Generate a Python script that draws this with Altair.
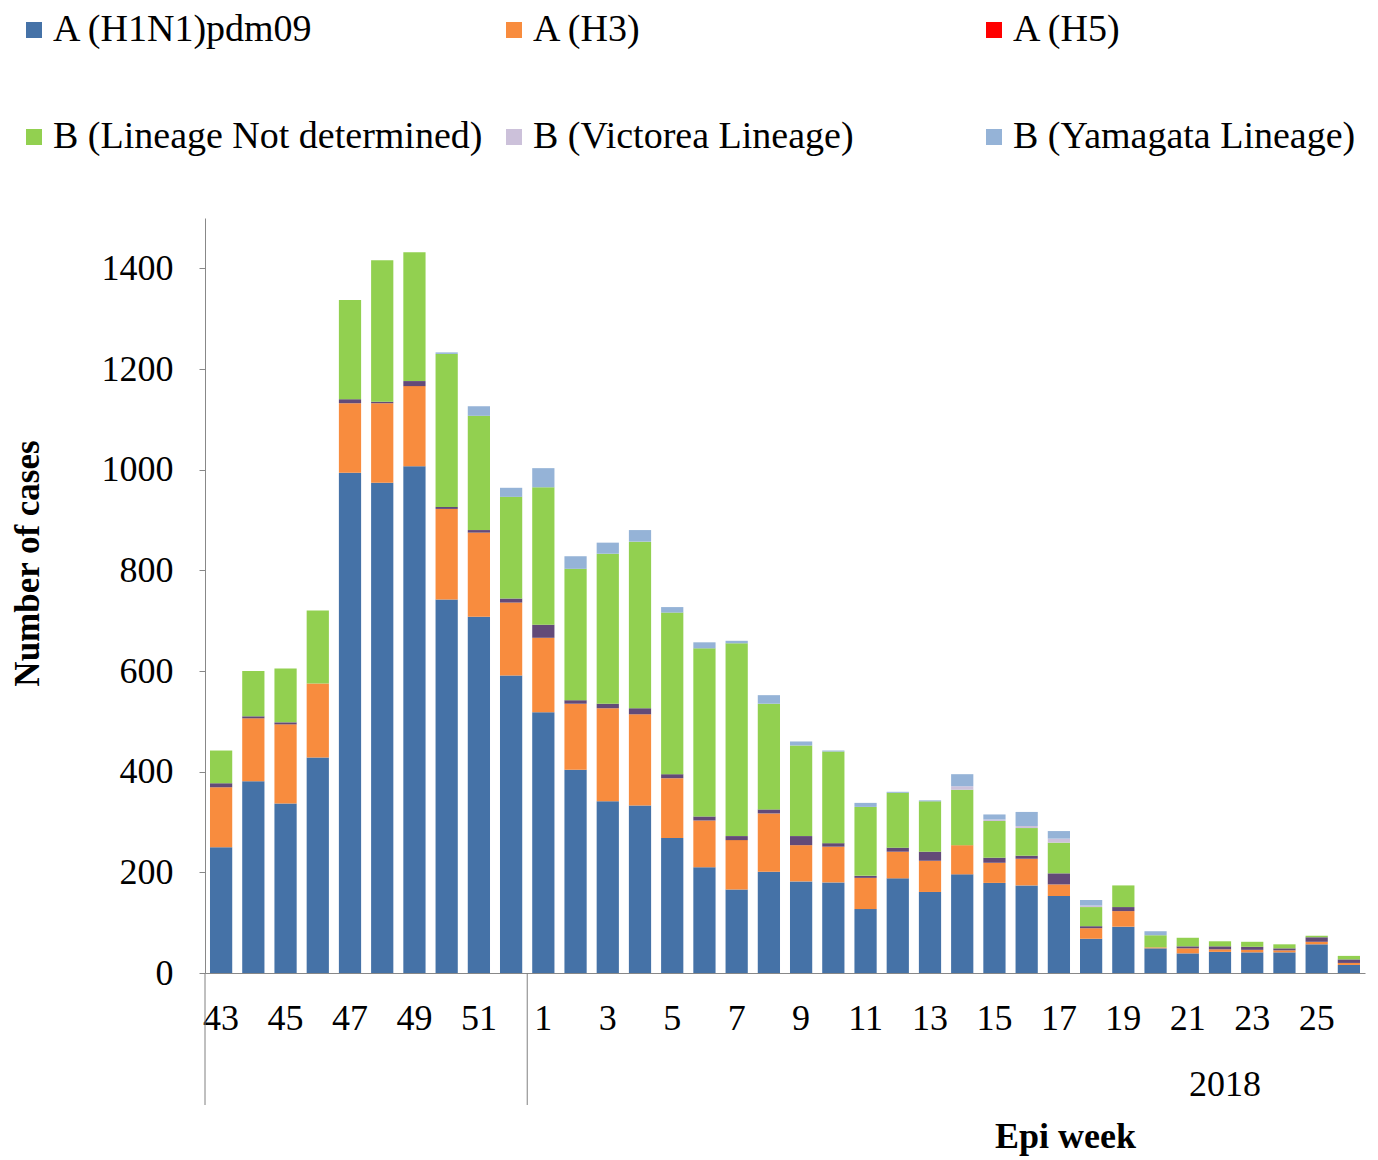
import altair as alt
import pandas as pd

weeks = [str(w) for w in list(range(43, 53)) + list(range(1, 27))]
shown_weeks = [str(w) for w in [43, 45, 47, 49, 51] + list(range(1, 26, 2))]

series = [
    "A (H1N1)pdm09",
    "A (H3)",
    "A (H5)",
    "A (not subtyped)",
    "B (Lineage Not determined)",
    "B (Victorea Lineage)",
    "B (Yamagata Lineage)",
]
legend_series = [s for s in series if s != "A (not subtyped)"]
colors = ["#4572A7", "#F88C3E", "#FF0000", "#634A78", "#92D050", "#CCC1DA", "#95B3D7"]

h1n1 = [250, 381, 337, 428, 994, 974, 1007, 742, 708, 591,
        518, 404, 341, 333, 268, 210, 166, 201, 182, 180,
        127, 188, 161, 196, 179, 174, 153, 68, 92, 49,
        39, 42, 41, 41, 57, 16]
h3 = [119, 125, 157, 147, 138, 158, 159, 180, 167, 145,
      148, 131, 185, 181, 119, 93, 98, 116, 72, 71,
      62, 53, 62, 58, 40, 53, 23, 21, 31, 2,
      10, 5, 5, 4, 5, 4]
h5 = [0] * 36
a_nst = [8, 4, 4, 0, 8, 3, 10, 4, 5, 8,
         26, 7, 9, 12, 8, 8, 8, 8, 18, 7,
         4, 8, 18, 0, 10, 6, 22, 4, 8, 0,
         4, 6, 6, 4, 9, 7]
b_nd = [65, 90, 107, 145, 197, 281, 256, 304, 227, 202,
        273, 261, 298, 331, 321, 334, 383, 210, 180, 182,
        137, 109, 100, 110, 73, 55, 61, 38, 43, 24,
        17, 10, 10, 8, 3, 7]
b_vic = [0, 0, 0, 0, 0, 0, 0, 0, 0, 0,
         0, 0, 0, 0, 0, 0, 0, 0, 0, 0,
         0, 0, 0, 7, 3, 4, 8, 3, 0, 0,
         0, 0, 0, 0, 0, 0]
b_yam = [0, 0, 0, 0, 0, 0, 0, 3, 19, 18,
         38, 25, 22, 23, 11, 12, 5, 17, 8, 2,
         8, 2, 2, 24, 10, 28, 15, 11, 0, 8,
         0, 0, 0, 0, 0, 0]

values = [h1n1, h3, h5, a_nst, b_nd, b_vic, b_yam]

rows = []
for si, (name, vals) in enumerate(zip(series, values)):
    for wi, (wk, v) in enumerate(zip(weeks, vals)):
        rows.append({"week": wk, "series": name, "order": si, "cases": v})
df = pd.DataFrame(rows)

year_starts = pd.DataFrame({"start": [0, 10]})
year_labels = pd.DataFrame({"year": ["2018"]})

FONT = "Liberation Serif"

bars = alt.Chart(df).mark_bar().encode(
    x=alt.X(
        "week:N",
        sort=weeks,
        scale=alt.Scale(paddingInner=0.31, paddingOuter=0.155),
        axis=alt.Axis(
            values=shown_weeks,
            labelAngle=0,
            labelOverlap=False,
            tickSize=0,
            labelPadding=45,
            labelBaseline="middle",
            labelFont=FONT,
            labelFontSize=36,
            labelColor="black",
            domainColor="#888888",
            title="Epi week",
            titleFont=FONT,
            titleFontSize=36,
            titleFontWeight="bold",
            titleColor="black",
            titleX=860,
            titleY=163,
            titleAlign="center",
            titleBaseline="middle",
        ),
    ),
    y=alt.Y(
        "cases:Q",
        stack="zero",
        scale=alt.Scale(domain=[0, 1500], nice=False),
        axis=alt.Axis(
            values=[0, 200, 400, 600, 800, 1000, 1200, 1400],
            format="d",
            grid=False,
            tickSize=6,
            tickColor="#888888",
            domainColor="#888888",
            labelPadding=26,
            labelFont=FONT,
            labelFontSize=36,
            labelColor="black",
            title="Number of cases",
            titleFont=FONT,
            titleFontSize=35,
            titleFontWeight="bold",
            titleColor="black",
            titleAngle=270,
            titleX=-178,
            titleY=345,
            titleAlign="center",
            titleBaseline="middle",
        ),
    ),
    color=alt.Color(
        "series:N",
        scale=alt.Scale(domain=series, range=colors),
        legend=alt.Legend(
            values=legend_series,
            title=None,
            orient="none",
            direction="horizontal",
            legendX=-190,
            legendY=-207,
            columns=3,
            gridAlign="all",
            columnPadding=12,
            rowPadding=69,
            padding=0,
            symbolType="square",
            symbolSize=256,
            symbolStrokeWidth=0,
            labelOffset=0,
            labelLimit=700,
            labelFont=FONT,
            labelFontSize=38,
            labelColor="black",
        ),
    ),
    order=alt.Order("order:Q", sort="ascending"),
)

seps = alt.Chart(year_starts).mark_rule(color="#808080", strokeWidth=1).encode(
    x=alt.X("start:Q", scale=alt.Scale(domain=[0, 36], nice=False, zero=False), axis=None),
    y=alt.value(755),
    y2=alt.value(887),
)

year_text = alt.Chart(year_labels).mark_text(
    font=FONT, fontSize=36, color="black", align="center", baseline="middle"
).encode(
    text="year:N",
    x=alt.value(1020),
    y=alt.value(867),
)

chart = (
    alt.layer(bars, seps, year_text)
    .resolve_scale(x="independent")
    .properties(
        width=1160,
        height=755,
        autosize="none",
        padding={"left": 197, "top": 210, "right": 5, "bottom": 187},
    )
    .configure_view(stroke=None)
)

chart.save("out.html", embed_options={"renderer": "svg", "actions": False})
